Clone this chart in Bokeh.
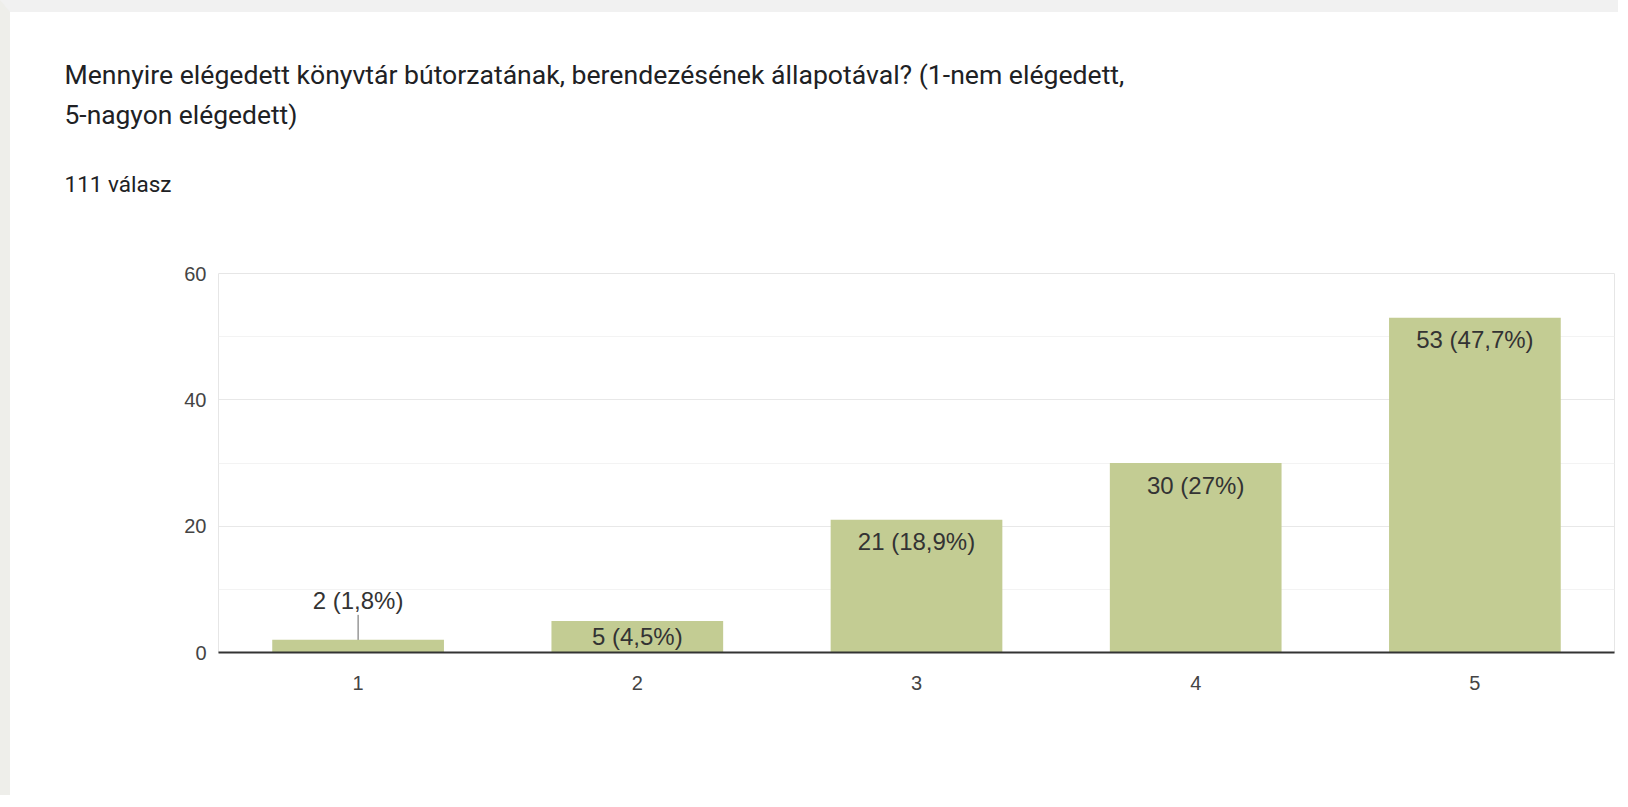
from bokeh.plotting import figure
from bokeh.models import Range1d, FixedTicker, ColumnDataSource, Title
from bokeh.core.properties import value
from bokeh.embed import file_html
from bokeh.resources import INLINE

# ---- data ----
categories = ["1", "2", "3", "4", "5"]
counts = [2, 5, 21, 30, 53]
percents = ["1,8%", "4,5%", "18,9%", "27%", "47,7%"]
y_ticks = [0, 20, 40, 60]
y_minor_ticks = [10, 30, 50]
title_lines = [
    "Mennyire elégedett könyvtár bútorzatának, berendezésének állapotával? (1-nem elégedett,",
    "5-nagyon elégedett)",
]
responses = "111 válasz"

# ---- style ----
GRAY_L, GRAY_T = 10, 12
W, H = 1628 - GRAY_L, 807 - GRAY_T
FRAME_H = 379
BORDER_L, BORDER_R, BORDER_T = 218 - GRAY_L, 14, 273 - GRAY_T
BORDER_B = H - BORDER_T - FRAME_H
BAR_COLOR = "#c3cc93"
CHART_FONT = "Liberation Sans"
TITLE_FONT = "Roboto"

p = figure(
    width=W, height=H, x_range=categories, y_range=Range1d(0, 60),
    output_backend="svg", toolbar_location=None, tools="",
    min_border_left=BORDER_L, min_border_right=BORDER_R,
    min_border_top=BORDER_T, min_border_bottom=BORDER_B,
)
p.styles = {"border-top": f"{GRAY_T}px solid #f1f1f1",
            "border-left": f"{GRAY_L}px solid #eeeeea"}
p.background_fill_color = "white"
p.border_fill_color = "white"
p.outline_line_color = "#e6e6e6"
p.outline_line_width = 1

# grid
p.xgrid.grid_line_color = None
p.yaxis.ticker = FixedTicker(ticks=y_ticks, minor_ticks=y_minor_ticks)
p.ygrid.grid_line_color = "#e8e8e8"
p.ygrid.minor_grid_line_color = "#f3f3f3"

# axes
p.xaxis.axis_line_color = "#333333"
p.xaxis.axis_line_width = 2
p.xaxis.major_tick_line_color = None
p.xaxis.minor_tick_line_color = None
p.xaxis.major_label_text_font = CHART_FONT
p.xaxis.major_label_text_font_size = "20px"
p.xaxis.major_label_text_color = "#444444"
p.xaxis.major_label_standoff = 17

p.yaxis.axis_line_color = None
p.yaxis.major_tick_line_color = None
p.yaxis.minor_tick_line_color = None
p.yaxis.major_label_text_font = CHART_FONT
p.yaxis.major_label_text_font_size = "20px"
p.yaxis.major_label_text_color = "#444444"
p.yaxis.major_label_standoff = 6

# bars
src = ColumnDataSource(dict(x=categories, top=counts))
p.vbar(x="x", top="top", width=0.615, source=src, fill_color=BAR_COLOR,
       line_color=None)

# bar labels
ppu = FRAME_H / 60.0
inside_x, inside_y, inside_t = [], [], []
mid_x, mid_y, mid_t = [], [], []
out_x, out_y, out_t = [], [], []
for c, v, pc in zip(categories, counts, percents):
    txt = f"{v} ({pc})"
    hpx = v * ppu
    if hpx >= 45:
        inside_x.append(c); inside_y.append(v); inside_t.append(txt)
    elif hpx >= 25:
        mid_x.append(c); mid_y.append(v / 2.0); mid_t.append(txt)
    else:
        out_x.append(c); out_y.append(v); out_t.append(txt)

common = dict(text_font=value(CHART_FONT), text_font_size="24px",
              text_color="#333333", text_align="center", text_baseline="middle")
p.text(x=inside_x, y=inside_y, text=inside_t, y_offset=22, **common)
p.text(x=mid_x, y=mid_y, text=mid_t, **common)
p.text(x=out_x, y=out_y, text=out_t, y_offset=-39, **common)
p.segment(x0=out_x, y0=out_y, x1=out_x, y1=[v + 25.0 / ppu for v in out_y],
          line_color="#666666", line_width=1)

# header texts: stacked upward from the frame (first added = closest)
X_OFF = 64 - 218

def spacer(gap):
    # an invisible (white, 1px) dot whose standoff reserves vertical space
    return Title(text=".", text_font_size="1px", standoff=max(gap - 3.2, 0),
                 text_color="white")

def header(txt, size):
    return Title(text=txt, align="left", offset=X_OFF, text_font=TITLE_FONT,
                 text_font_size=size, text_font_style="normal",
                 text_color="#202124", standoff=0)

p.add_layout(spacer(77.0), "above")
p.add_layout(header(responses, "22.5px"), "above")
p.add_layout(spacer(39.0), "above")
p.add_layout(header(title_lines[1], "26.4px"), "above")
p.add_layout(spacer(8.5), "above")

p.title.text = title_lines[0]
p.title.align = "left"
p.title.offset = X_OFF
p.title.text_font = TITLE_FONT
p.title.text_font_size = "26.6px"
p.title.text_font_style = "normal"
p.title.text_color = "#202124"
p.title.standoff = 0

open("out.html", "w").write(file_html(p, INLINE))
